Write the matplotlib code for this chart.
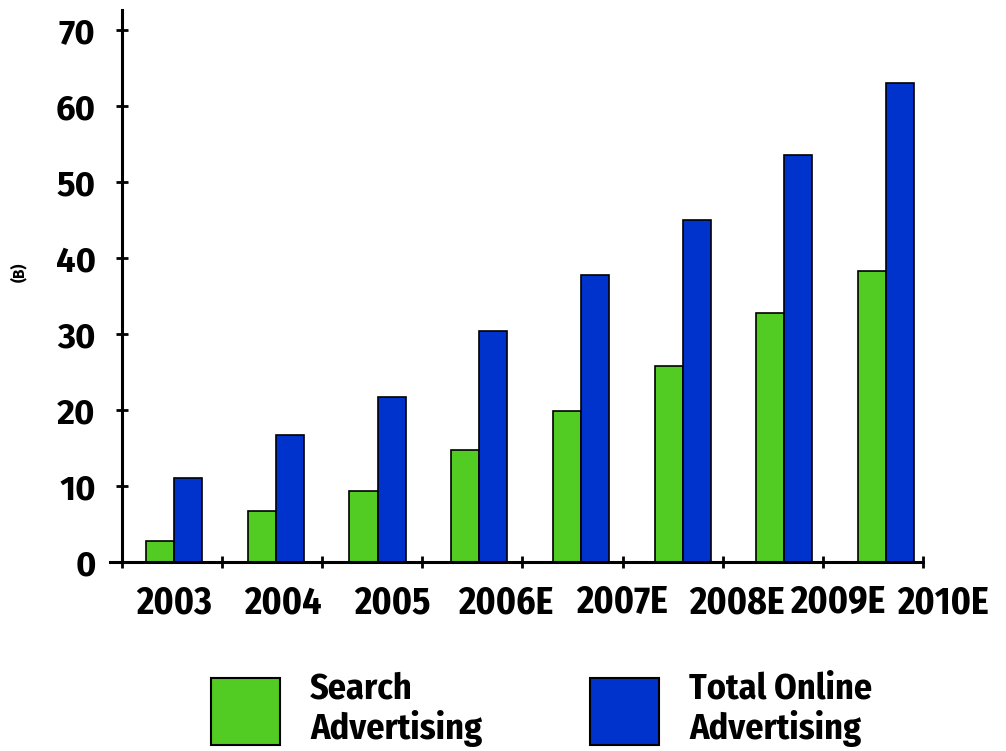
import numpy as np
import matplotlib
matplotlib.use('Agg')
import matplotlib.pyplot as plt

years = ['2003', '2004', '2005', '2006E', '2007E', '2008E', '2009E', '2010E']
search_ad = [2.8, 6.7, 9.3, 14.7, 19.9, 25.8, 32.7, 38.3]
total_online = [11.1, 16.7, 21.7, 30.4, 37.8, 45.0, 53.5, 63.0]
y_ticks = [0, 10, 20, 30, 40, 50, 60, 70]

GREEN = '#52CC22'
BLUE = '#0033CC'
cond = ['Fira Sans Condensed', 'DejaVu Sans']
wide = ['Fira Sans', 'DejaVu Sans']

fig = plt.figure(figsize=(10.06, 7.51), dpi=100)
ax = fig.add_axes([0.10934, 0.2517, 0.8330, 0.735])

# bar groups drift slightly right of the year boundaries
x = 0.52 + 1.016 * np.arange(len(years))
w = 0.28
b1 = ax.bar(x - w / 2, search_ad, w, color=GREEN, edgecolor='black', linewidth=1.2)
b2 = ax.bar(x + w / 2, total_online, w, color=BLUE, edgecolor='black', linewidth=1.2)

for s in ['top', 'right']:
    ax.spines[s].set_visible(False)
ax.spines['left'].set_position(('data', 0))
ax.spines['left'].set_linewidth(2.2)
ax.spines['bottom'].set_linewidth(2.2)
ax.spines['bottom'].set_bounds(-0.12, len(years))

# year boundaries get the tick marks, the labels sit on minor ticks
label_pos = [0.52, 1.61, 2.70, 3.83, 4.99, 6.14, 7.15, 8.20]
ax.xaxis.remove_overlapping_locs = False
ax.set_xticks(np.arange(len(years) + 1))
ax.set_xticklabels([])
ax.set_xticks(label_pos, minor=True)
ax.set_xticklabels(years, minor=True, fontsize=27, fontweight='bold', family=cond)
ax.tick_params(axis='x', which='major', direction='inout', length=9, width=2)
ax.tick_params(axis='x', which='minor', length=0, pad=16)

ax.set_xlim(-0.12, 8.25)
ax.set_ylim(0, 72.63)

ax.set_yticks(y_ticks)
ax.set_yticklabels([str(v) for v in y_ticks], fontsize=25, fontweight='bold', family=wide)
ax.tick_params(axis='y', direction='inout', length=8, width=2, pad=15)

ax.set_ylabel('(B)', fontsize=11, fontweight='bold', family=wide)
ax.yaxis.set_label_coords(-0.099, 0.525)

leg = fig.legend([b1, b2], ['Search\nAdvertising', 'Total Online\nAdvertising'],
                 loc='upper left', bbox_to_anchor=(211 / 1006, 1 - 671 / 751),
                 ncol=2, frameon=False, borderpad=0, borderaxespad=0,
                 handlelength=1.91, handleheight=2.5, handletextpad=0.83,
                 columnspacing=3.0,
                 prop={'family': cond, 'weight': 'bold', 'size': 26})
for t in leg.get_texts():
    t.set_linespacing(1.12)
for h in leg.legend_handles:
    h.set_linewidth(1.5)

fig.savefig('out.png', dpi=100)
